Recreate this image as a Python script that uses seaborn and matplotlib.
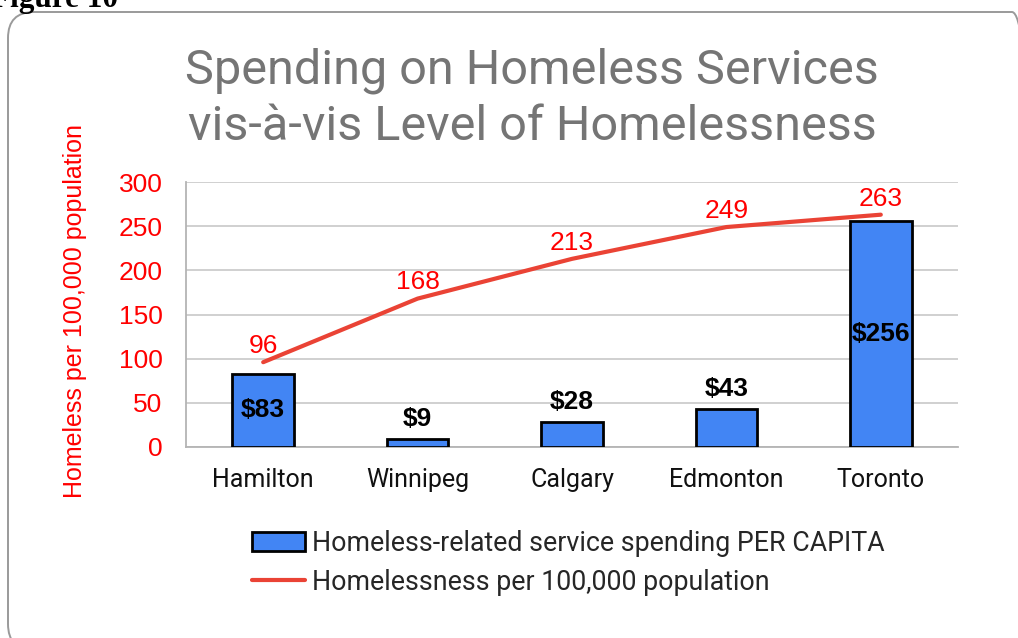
import numpy as np
import pandas as pd
import seaborn as sns
import matplotlib
matplotlib.use("Agg")
import matplotlib.pyplot as plt
from matplotlib.patches import FancyBboxPatch, Patch
from matplotlib.lines import Line2D

# Data
cities = ["Hamilton", "Winnipeg", "Calgary", "Edmonton", "Toronto"]
spending_per_capita = [83, 9, 28, 43, 256]
homeless_per_100k = [96, 168, 213, 249, 263]
y_ticks = [0, 50, 100, 150, 200, 250, 300]

BAR_BLUE = "#4285F4"
LINE_RED = "#EA4335"
LABEL_RED = "#FF0000"
TITLE_GRAY = "#757575"

sns.set_theme(style="white")
plt.rcParams["font.family"] = ["Liberation Sans", "DejaVu Sans"]

fig = plt.figure(figsize=(10.18, 6.38), dpi=100)
fig.patch.set_facecolor("white")

# Rounded frame around the chart
frame = FancyBboxPatch((0.08, -0.12), 10.3, 6.40 - 0.02,
                       boxstyle="round,pad=0,rounding_size=0.26",
                       transform=fig.dpi_scale_trans, facecolor="none",
                       edgecolor="#9a9a9a", linewidth=1.4, zorder=0)
fig.patches.append(frame)

# Caption above the frame
fig.text(-9 / 1018, 631 / 638, "Figure 10", ha="left", va="baseline",
         family="Liberation Serif", fontweight="bold", fontsize=22.5, color="black")

ax = fig.add_axes([186 / 1018, 1 - 447 / 638, 772 / 1018, 265 / 638])

df = pd.DataFrame({"city": cities, "spending": spending_per_capita,
                   "homeless": homeless_per_100k})

sns.barplot(data=df, x="city", y="spending", color=BAR_BLUE, saturation=1,
            width=0.4, edgecolor="black", linewidth=2, ax=ax, zorder=3)
sns.lineplot(x=np.arange(len(cities)), y=homeless_per_100k, color=LINE_RED,
             linewidth=3, ax=ax, zorder=4)

ax.set_xlim(-0.5, len(cities) - 0.5)
ax.set_ylim(0, 300)
ax.set_yticks(y_ticks)
ax.yaxis.grid(True, color="#c8c8c8", linewidth=1.2, zorder=0)
ax.set_axisbelow(True)
for side in ["top", "right"]:
    ax.spines[side].set_visible(False)
for side in ["left", "bottom"]:
    ax.spines[side].set_color("#b4b4b4")
    ax.spines[side].set_linewidth(1.3)

ax.tick_params(axis="y", length=0, pad=17, labelsize=19, labelcolor=LABEL_RED)
ax.tick_params(axis="x", length=0, pad=15)
ax.set_xticks(range(len(cities)))
ax.set_xticklabels(cities, family="Roboto", fontsize=18, color="#111111")

ax.set_xlabel("")
ax.set_ylabel("Homeless per 100,000 population", color=LABEL_RED, fontsize=18)
ax.yaxis.set_label_coords(-0.128, 0.515)

# Spending labels on the bars
for i, v in enumerate(spending_per_capita):
    if v > 60:
        ax.text(i, v / 2, f"${v}", ha="center", va="center",
                fontsize=19, fontweight="bold", color="black", zorder=5)
    else:
        ax.annotate(f"${v}", (i, v), xytext=(0, 6), textcoords="offset points",
                    ha="center", va="bottom", fontsize=19, fontweight="bold",
                    color="black", zorder=5)

# Homelessness labels above the line
for i, v in enumerate(homeless_per_100k):
    ax.annotate(f"{v}", (i, v), xytext=(0, 3), textcoords="offset points",
                ha="center", va="bottom", fontsize=19, color=LABEL_RED, zorder=5)

# Title
fig.text(532 / 1018, 1 - 83 / 638, "Spending on Homeless Services",
         ha="center", va="baseline", family="Roboto", fontsize=35, color=TITLE_GRAY)
fig.text(532 / 1018, 1 - 140 / 638, "vis-à-vis Level of Homelessness",
         ha="center", va="baseline", family="Roboto", fontsize=35, color=TITLE_GRAY)

# Legend
handles = [Patch(facecolor=BAR_BLUE, edgecolor="black", linewidth=2),
           Line2D([0], [0], color=LINE_RED, linewidth=3)]
labels = ["Homeless-related service spending PER CAPITA",
          "Homelessness per 100,000 population"]
fig.legend(handles, labels, loc="upper left", bbox_to_anchor=(252 / 1018, 1 - 530 / 638),
           frameon=False, prop={"family": "Roboto", "size": 19.3},
           handlelength=1.98, handleheight=0.72, handletextpad=0.26,
           labelspacing=0.43, borderaxespad=0, borderpad=0)

fig.savefig("out.png", dpi=100, facecolor="white")
